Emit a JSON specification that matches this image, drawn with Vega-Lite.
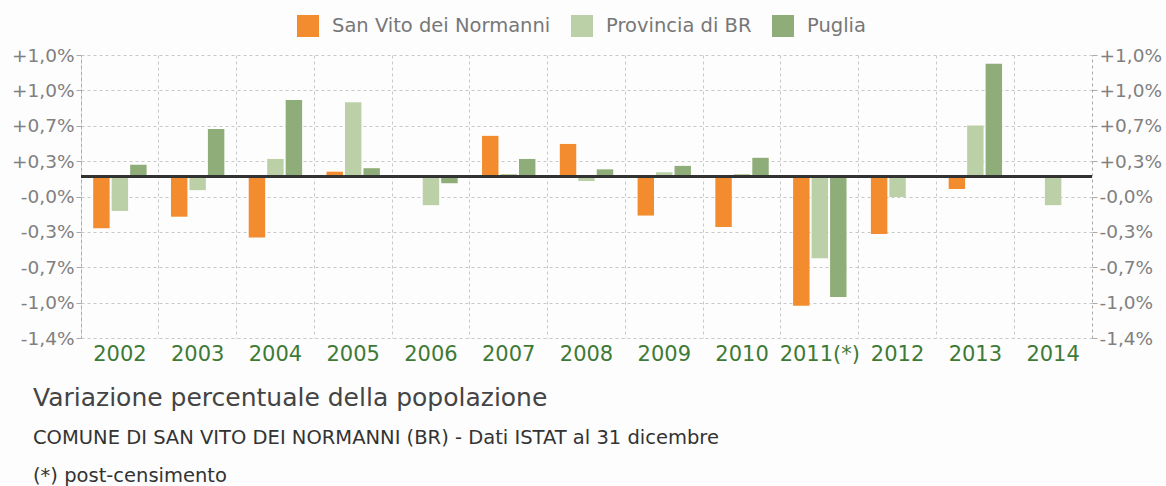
{
  "$schema": "https://vega.github.io/schema/vega-lite/v6.json",
  "width": 1011,
  "height": 283,
  "autosize": {"type": "none"},
  "padding": {"left": 81, "top": 55, "right": 74, "bottom": 148},
  "background": "#fdfdfd",
  "config": {
    "font": "DejaVu Sans",
    "view": {"stroke": null}
  },
  "title": {
    "text": "Variazione percentuale della popolazione",
    "subtitle": ["COMUNE DI SAN VITO DEI NORMANNI (BR) - Dati ISTAT al 31 dicembre", "(*) post-censimento"],
    "orient": "bottom",
    "anchor": "start",
    "frame": "group",
    "dx": -48,
    "offset": 22,
    "fontSize": 25,
    "fontWeight": "normal",
    "color": "#444444",
    "subtitleFontSize": 19.5,
    "subtitleColor": "#333333",
    "subtitleLineHeight": 38,
    "subtitlePadding": 18
  },
  "data": {
    "values": [
      {"anno": "2002", "serie": "San Vito dei Normanni", "valore": -0.45},
      {"anno": "2002", "serie": "Provincia di BR", "valore": -0.30},
      {"anno": "2002", "serie": "Puglia", "valore": 0.10},
      {"anno": "2003", "serie": "San Vito dei Normanni", "valore": -0.35},
      {"anno": "2003", "serie": "Provincia di BR", "valore": -0.12},
      {"anno": "2003", "serie": "Puglia", "valore": 0.41},
      {"anno": "2004", "serie": "San Vito dei Normanni", "valore": -0.53},
      {"anno": "2004", "serie": "Provincia di BR", "valore": 0.15},
      {"anno": "2004", "serie": "Puglia", "valore": 0.66},
      {"anno": "2005", "serie": "San Vito dei Normanni", "valore": 0.04},
      {"anno": "2005", "serie": "Provincia di BR", "valore": 0.64},
      {"anno": "2005", "serie": "Puglia", "valore": 0.07},
      {"anno": "2006", "serie": "San Vito dei Normanni", "valore": 0.0},
      {"anno": "2006", "serie": "Provincia di BR", "valore": -0.25},
      {"anno": "2006", "serie": "Puglia", "valore": -0.06},
      {"anno": "2007", "serie": "San Vito dei Normanni", "valore": 0.35},
      {"anno": "2007", "serie": "Provincia di BR", "valore": 0.02},
      {"anno": "2007", "serie": "Puglia", "valore": 0.15},
      {"anno": "2008", "serie": "San Vito dei Normanni", "valore": 0.28},
      {"anno": "2008", "serie": "Provincia di BR", "valore": -0.04},
      {"anno": "2008", "serie": "Puglia", "valore": 0.06},
      {"anno": "2009", "serie": "San Vito dei Normanni", "valore": -0.34},
      {"anno": "2009", "serie": "Provincia di BR", "valore": 0.035},
      {"anno": "2009", "serie": "Puglia", "valore": 0.09},
      {"anno": "2010", "serie": "San Vito dei Normanni", "valore": -0.44},
      {"anno": "2010", "serie": "Provincia di BR", "valore": 0.02},
      {"anno": "2010", "serie": "Puglia", "valore": 0.16},
      {"anno": "2011(*)", "serie": "San Vito dei Normanni", "valore": -1.12},
      {"anno": "2011(*)", "serie": "Provincia di BR", "valore": -0.71},
      {"anno": "2011(*)", "serie": "Puglia", "valore": -1.045},
      {"anno": "2012", "serie": "San Vito dei Normanni", "valore": -0.50},
      {"anno": "2012", "serie": "Provincia di BR", "valore": -0.18},
      {"anno": "2012", "serie": "Puglia", "valore": -0.01},
      {"anno": "2013", "serie": "San Vito dei Normanni", "valore": -0.11},
      {"anno": "2013", "serie": "Provincia di BR", "valore": 0.44},
      {"anno": "2013", "serie": "Puglia", "valore": 0.975},
      {"anno": "2014", "serie": "San Vito dei Normanni", "valore": -0.01},
      {"anno": "2014", "serie": "Provincia di BR", "valore": -0.25},
      {"anno": "2014", "serie": "Puglia", "valore": 0.0}
    ]
  },
  "layer": [
    {
      "mark": {"type": "bar", "stroke": null},
      "encoding": {
        "x": {
          "field": "anno", "type": "nominal", "sort": null,
          "scale": {"paddingInner": 0, "paddingOuter": 0},
          "axis": {
            "title": null, "labelAngle": 0, "bandPosition": 0,
            "grid": true, "gridDash": [3, 3], "gridColor": "#c8c8c8", "gridWidth": 1,
            "ticks": false, "domain": false,
            "labelFontSize": 21, "labelColor": "#3d7a35", "labelPadding": 5
          }
        },
        "xOffset": {
          "field": "serie", "type": "nominal",
          "sort": ["San Vito dei Normanni", "Provincia di BR", "Puglia"],
          "scale": {"paddingInner": 0.11, "paddingOuter": 0.66}
        },
        "y": {
          "field": "valore", "type": "quantitative",
          "scale": {"domain": [-1.4, 1.05], "nice": false, "zero": false},
          "axis": {
            "orient": "left", "title": null,
            "values": [-1.4, -1.09375, -0.7875, -0.48125, -0.175, 0.13125, 0.4375, 0.74375, 1.05],
            "labelExpr": "datum.value < -1.3 ? '-1,4%' : datum.value < -1.0 ? '-1,0%' : datum.value < -0.7 ? '-0,7%' : datum.value < -0.4 ? '-0,3%' : datum.value < -0.1 ? '-0,0%' : datum.value < 0.2 ? '+0,3%' : datum.value < 0.5 ? '+0,7%' : '+1,0%'",
            "grid": true, "gridDash": [3, 3], "gridColor": "#c8c8c8",
            "domain": true, "domainDash": [3, 3], "domainColor": "#aaaaaa",
            "ticks": true, "tickSize": 5, "tickColor": "#aaaaaa",
            "labelFontSize": 18.5, "labelColor": "#808080", "labelPadding": 2
          }
        },
        "color": {
          "field": "serie", "type": "nominal",
          "sort": ["San Vito dei Normanni", "Provincia di BR", "Puglia"],
          "scale": {
            "domain": ["San Vito dei Normanni", "Provincia di BR", "Puglia"],
            "range": ["#f28c2f", "#bcd0a8", "#8fad78"]
          },
          "legend": {
            "title": null, "orient": "none", "direction": "horizontal",
            "legendX": 216, "legendY": -40,
            "symbolType": "square", "symbolSize": 484, "symbolStrokeWidth": 0,
            "labelFontSize": 19.5, "labelColor": "#777777", "labelOffset": 13,
            "labelLimit": 400, "columnPadding": 20
          }
        }
      }
    },
    {
      "mark": {"type": "rule", "color": "#333333", "strokeWidth": 2},
      "encoding": {
        "y": {
          "datum": 0, "type": "quantitative",
          "axis": {
            "orient": "right", "title": null,
            "values": [-1.4, -1.09375, -0.7875, -0.48125, -0.175, 0.13125, 0.4375, 0.74375, 1.05],
            "labelExpr": "datum.value < -1.3 ? '-1,4%' : datum.value < -1.0 ? '-1,0%' : datum.value < -0.7 ? '-0,7%' : datum.value < -0.4 ? '-0,3%' : datum.value < -0.1 ? '-0,0%' : datum.value < 0.2 ? '+0,3%' : datum.value < 0.5 ? '+0,7%' : '+1,0%'",
            "grid": false,
            "domain": true, "domainDash": [3, 3], "domainColor": "#aaaaaa",
            "ticks": true, "tickSize": 5, "tickColor": "#aaaaaa",
            "labelFontSize": 18.5, "labelColor": "#808080", "labelPadding": 2
          }
        }
      }
    }
  ],
  "resolve": {"axis": {"y": "independent"}}
}
